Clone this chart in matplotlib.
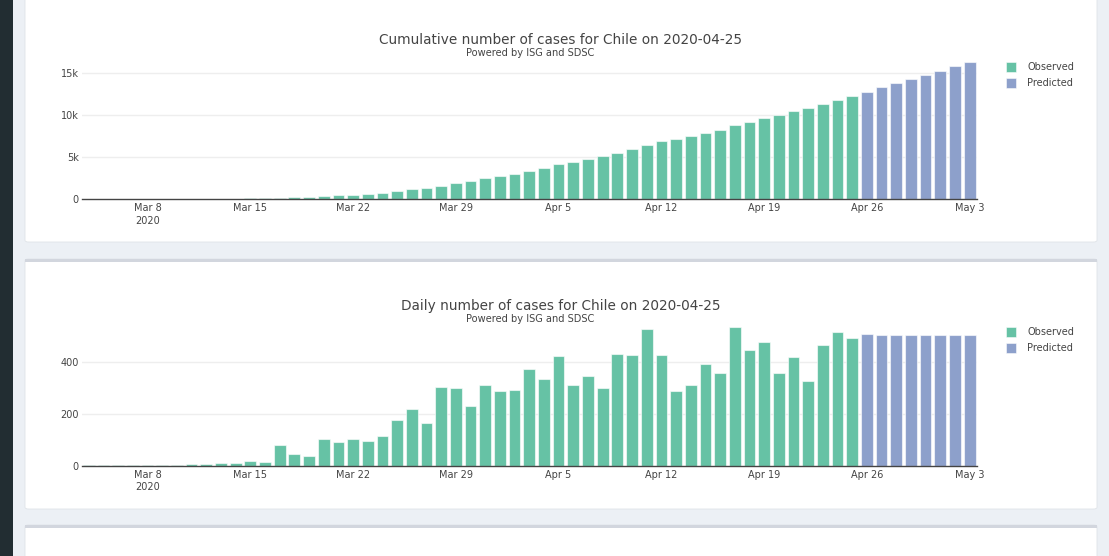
import numpy as np
import pandas as pd
import matplotlib
matplotlib.use("Agg")
import matplotlib.pyplot as plt
import matplotlib.dates as mdates
from matplotlib.patches import Rectangle, FancyBboxPatch

# observed data, Mar 4 - Apr 25 2020
obs_start, obs_end = "2020-03-04", "2020-04-25"
pred_start, pred_end = "2020-04-26", "2020-05-03"

cum_observed = [1, 3, 4, 5, 7, 10, 13, 17, 23, 33, 43, 61, 74, 155, 201, 238,
                342, 434, 537, 632, 746, 922, 1142, 1306, 1610, 1909, 2139, 2449,
                2738, 3031, 3404, 3737, 4161, 4471, 4815, 5116, 5546, 5972, 6501,
                6927, 7213, 7525, 7917, 8273, 8807, 9252, 9730, 10088, 10507,
                10832, 11296, 11812, 12306]
cum_predicted = [12815, 13320, 13825, 14330, 14835, 15340, 15845, 16350]

daily_observed = [1, 2, 1, 1, 2, 3, 3, 4, 6, 10, 10, 18, 13, 81, 46, 37,
                  104, 92, 103, 95, 114, 176, 220, 164, 304, 299, 230, 310,
                  289, 293, 373, 333, 424, 310, 344, 301, 430, 426, 529,
                  426, 286, 312, 392, 356, 534, 445, 478, 358, 419,
                  325, 464, 516, 494]
daily_predicted = [509, 505, 505, 505, 505, 505, 505, 505]

tick_dates = ["2020-03-08", "2020-03-15", "2020-03-22", "2020-03-29", "2020-04-05",
              "2020-04-12", "2020-04-19", "2020-04-26", "2020-05-03"]
tick_labels = ["Mar 8\n2020", "Mar 15", "Mar 22", "Mar 29", "Apr 5",
               "Apr 12", "Apr 19", "Apr 26", "May 3"]

cum_yticks = [0, 5000, 10000, 15000]
cum_ylabels = ["0", "5k", "10k", "15k"]
daily_yticks = [0, 200, 400]
daily_ylabels = ["0", "200", "400"]

GREEN = "#66c2a5"
BLUE = "#8da0cb"
TXT = "#444444"

W, H = 1109, 556
fig = plt.figure(figsize=(W / 100, H / 100), dpi=100)
fig.patch.set_facecolor("#ecf0f5")


def frac(left, top, width, height):
    return [left / W, 1 - (top + height) / H, width / W, height / H]


# page chrome: sidebar + cards (drawn under the axes)
fig.add_artist(Rectangle((0, 0), 13 / W, 1, transform=fig.transFigure,
                         facecolor="#222d32", edgecolor="none", zorder=-5))
for top, bottom, border in [(-10, 242, False), (259, 509, True), (525, 570, True)]:
    l, b, w, h = frac(25, top, 1072, bottom - top)
    fig.add_artist(FancyBboxPatch((l, b), w, h, transform=fig.transFigure,
                                  boxstyle="round,pad=0,rounding_size=0.003",
                                  facecolor="white", edgecolor="#dfe3e8", lw=0.6,
                                  zorder=-5))
    if border:
        fig.add_artist(Rectangle((25 / W, 1 - (top + 2.5) / H), 1072 / W, 2.5 / H,
                                 transform=fig.transFigure, facecolor="#d2d6de",
                                 edgecolor="none", zorder=-4))

obs_dates = pd.date_range(obs_start, obs_end)
pred_dates = pd.date_range(pred_start, pred_end)
xmin = mdates.date2num(obs_dates[0]) - 0.5
xmax = mdates.date2num(pred_dates[-1]) + 0.5


def draw(rect, obs, pred, yticks, ylabels, ytop, title, title_y, legend_y):
    ax = fig.add_axes(frac(*rect))
    ax.patch.set_alpha(0)
    ax.bar(obs_dates, obs, width=0.8, color=GREEN,
           edgecolor=(1, 1, 1, 0.6), linewidth=0.8, zorder=3)
    ax.bar(pred_dates, pred, width=0.8, color=BLUE,
           edgecolor=(1, 1, 1, 0.6), linewidth=0.8, zorder=3)
    ax.set_xlim(xmin, xmax)
    ax.set_ylim(0, ytop)
    ax.set_yticks(yticks)
    ax.set_yticklabels(ylabels)
    ax.set_xticks(pd.to_datetime(tick_dates))
    ax.set_xticklabels(tick_labels, linespacing=1.35)
    ax.tick_params(length=0, labelsize=7, colors=TXT, pad=3)
    ax.tick_params(axis="y", pad=2)
    for t in yticks[1:]:
        ax.axhline(t, color="#eeeeee", lw=1, zorder=1)
    for s in ["top", "right", "left"]:
        ax.spines[s].set_visible(False)
    ax.spines["bottom"].set_color(TXT)
    ax.spines["bottom"].set_linewidth(1)
    ax.spines["bottom"].set_zorder(4)

    fig.text(561 / W, 1 - title_y / H, title, ha="center", va="center",
             fontsize=9.8, color=TXT)
    fig.text(530 / W, 1 - (title_y + 13) / H, "Powered by ISG and SDSC",
             ha="center", va="center", fontsize=7.1, color=TXT)

    for i, (lab, col) in enumerate([("Observed", GREEN), ("Predicted", BLUE)]):
        cy = legend_y + 16 * i
        fig.add_artist(Rectangle((1006 / W, 1 - (cy + 5) / H), 10 / W, 10 / H,
                                 transform=fig.transFigure, facecolor=col,
                                 edgecolor=(1, 1, 1, 0.6), lw=0.6))
        fig.text(1027 / W, 1 - cy / H, lab, ha="left", va="center",
                 fontsize=7, color=TXT)
    return ax


draw((81.5, 55, 895.5, 144), cum_observed, cum_predicted, cum_yticks, cum_ylabels,
     17200, "Cumulative number of cases for Chile on 2020-04-25", 40, 66.5)
draw((81.5, 320, 895.5, 145.5), daily_observed, daily_predicted, daily_yticks,
     daily_ylabels, 562, "Daily number of cases for Chile on 2020-04-25", 306, 332)

fig.savefig("out.png", dpi=100)
